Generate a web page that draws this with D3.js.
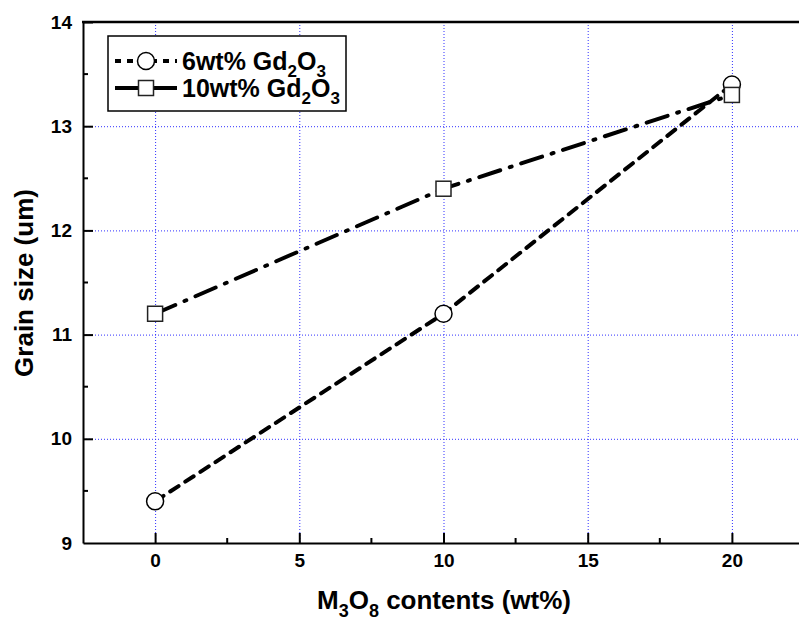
<!DOCTYPE html>
<html>
<head>
<meta charset="utf-8">
<script src="https://cdn.jsdelivr.net/npm/d3@7"></script>
<style>
  body { margin: 0; background: #fff; }
  svg { display: block; font-family: "Liberation Sans", Arial, sans-serif; font-weight: bold; }
</style>
</head>
<body>
<svg id="chart" width="799" height="628"></svg>
<script>
  // data
  const contents = [0, 10, 20];
  const gd6 = [9.4, 11.2, 13.4];
  const gd10 = [11.2, 12.4, 13.3];
  const xTicks = [0, 5, 10, 15, 20];
  const yTicks = [9, 10, 11, 12, 13, 14];

  const svg = d3.select('#chart');
  const x = d3.scaleLinear().domain([-2.5, 22.5]).range([83, 804]);
  const y = d3.scaleLinear().domain([9, 14]).range([543, 22]);

  // grid
  const grid = svg.append('g')
    .attr('stroke', '#3030ff')
    .attr('stroke-width', 1)
    .attr('stroke-dasharray', '1,2');
  grid.selectAll('.gx').data(xTicks).enter().append('line')
    .attr('x1', d => x(d) + 0.5).attr('x2', d => x(d) + 0.5)
    .attr('y1', y(14)).attr('y2', y(9));
  grid.selectAll('.gy').data(yTicks.slice(1, -1)).enter().append('line')
    .attr('x1', x(-2.5)).attr('x2', 799)
    .attr('y1', d => y(d) + 0.5).attr('y2', d => y(d) + 0.5);

  // axes
  const xAxis = d3.axisBottom(x).tickValues(xTicks).tickFormat(d3.format('d'))
    .tickSize(-10).tickPadding(11).tickSizeOuter(0);
  const yAxis = d3.axisLeft(y).tickValues(yTicks).tickFormat(d3.format('d'))
    .tickSize(-10).tickPadding(11).tickSizeOuter(0);

  const gx = svg.append('g').attr('transform', `translate(0,${y(9)})`).call(xAxis);
  const gy = svg.append('g').attr('transform', `translate(${x(-2.5)},0)`).call(yAxis);
  [gx, gy].forEach(g => {
    g.attr('font-size', 19).attr('font-weight', 'bold')
      .attr('font-family', '"Liberation Sans", Arial, sans-serif');
    g.select('.domain').attr('stroke', '#000').attr('stroke-width', 2);
    g.selectAll('.tick line').attr('stroke', '#000').attr('stroke-width', 2);
    g.selectAll('.tick text').attr('fill', '#000');
  });
  gy.selectAll('.tick').filter(d => d === 9).select('line').remove();

  // minor ticks
  const minorX = [2.5, 7.5, 12.5, 17.5];
  svg.append('g').selectAll('line').data(minorX).enter().append('line')
    .attr('x1', d => x(d)).attr('x2', d => x(d))
    .attr('y1', y(9)).attr('y2', y(9) - 5)
    .attr('stroke', '#000').attr('stroke-width', 2);
  const minorY = [9.5, 10.5, 11.5, 12.5, 13.5];
  svg.append('g').selectAll('line').data(minorY).enter().append('line')
    .attr('x1', x(-2.5)).attr('x2', x(-2.5) + 5)
    .attr('y1', d => y(d)).attr('y2', d => y(d))
    .attr('stroke', '#000').attr('stroke-width', 2);

  // top spine
  svg.append('line')
    .attr('x1', x(-2.5) - 1).attr('x2', 799)
    .attr('y1', y(14)).attr('y2', y(14))
    .attr('stroke', '#000').attr('stroke-width', 2.5);

  // series
  const series = [
    { name: '6wt% Gd', values: gd6, dash: '10,8', marker: 'circle' },
    { name: '10wt% Gd', values: gd10, dash: '22,10,2,10', marker: 'square' }
  ];
  const line = d3.line().x(d => x(d[0])).y(d => y(d[1]));

  series.forEach(s => {
    const pts = contents.map((c, i) => [c, s.values[i]]);
    svg.append('path')
      .attr('d', line(pts))
      .attr('fill', 'none')
      .attr('stroke', '#000')
      .attr('stroke-width', 4)
      .attr('stroke-linecap', 'round')
      .attr('stroke-dasharray', s.dash);
  });

  function drawMarker(g, type, cx, cy) {
    if (type === 'circle') {
      g.append('circle').attr('cx', cx).attr('cy', cy).attr('r', 8.5)
        .attr('fill', '#fff').attr('stroke', '#000').attr('stroke-width', 1.5);
    } else {
      g.append('rect').attr('x', cx - 7.5).attr('y', cy - 7.5)
        .attr('width', 15).attr('height', 15)
        .attr('fill', '#fff').attr('stroke', '#222').attr('stroke-width', 1.5);
    }
  }

  series.forEach(s => {
    const g = svg.append('g');
    contents.forEach((c, i) => drawMarker(g, s.marker, x(c), y(s.values[i])));
  });

  // legend
  const legend = svg.append('g');
  legend.append('rect')
    .attr('x', 108).attr('y', 36).attr('width', 238).attr('height', 75)
    .attr('fill', '#fff').attr('stroke', '#000').attr('stroke-width', 1.5);
  const rows = [61, 88];
  series.forEach((s, i) => {
    const ly = rows[i];
    legend.append('line')
      .attr('x1', 115).attr('x2', 177).attr('y1', ly).attr('y2', ly)
      .attr('stroke', '#000').attr('stroke-width', 4)
      .attr('stroke-dasharray', i === 0 ? '6,6' : null);
    drawMarker(legend, s.marker, 146, ly);
    const t = legend.append('text')
      .attr('x', 182).attr('y', ly + 9)
      .style('font-size', '25px');
    t.append('tspan').text(s.name);
    t.append('tspan').attr('dy', 7).style('font-size', '17px').text('2');
    t.append('tspan').attr('dy', -7).text('O');
    t.append('tspan').attr('dy', 7).style('font-size', '17px').text('3');
  });

  // axis titles
  const xt = svg.append('text')
    .attr('x', 444).attr('y', 609)
    .attr('text-anchor', 'middle')
    .style('font-size', '26px');
  xt.append('tspan').text('M');
  xt.append('tspan').attr('dy', 8).style('font-size', '18px').text('3');
  xt.append('tspan').attr('dy', -8).text('O');
  xt.append('tspan').attr('dy', 8).style('font-size', '18px').text('8');
  xt.append('tspan').attr('dy', -8).text(' contents (wt%)');

  svg.append('text')
    .attr('transform', 'translate(33,283) rotate(-90)')
    .attr('text-anchor', 'middle')
    .style('font-size', '26px')
    .text('Grain size (um)');
</script>
</body>
</html>
